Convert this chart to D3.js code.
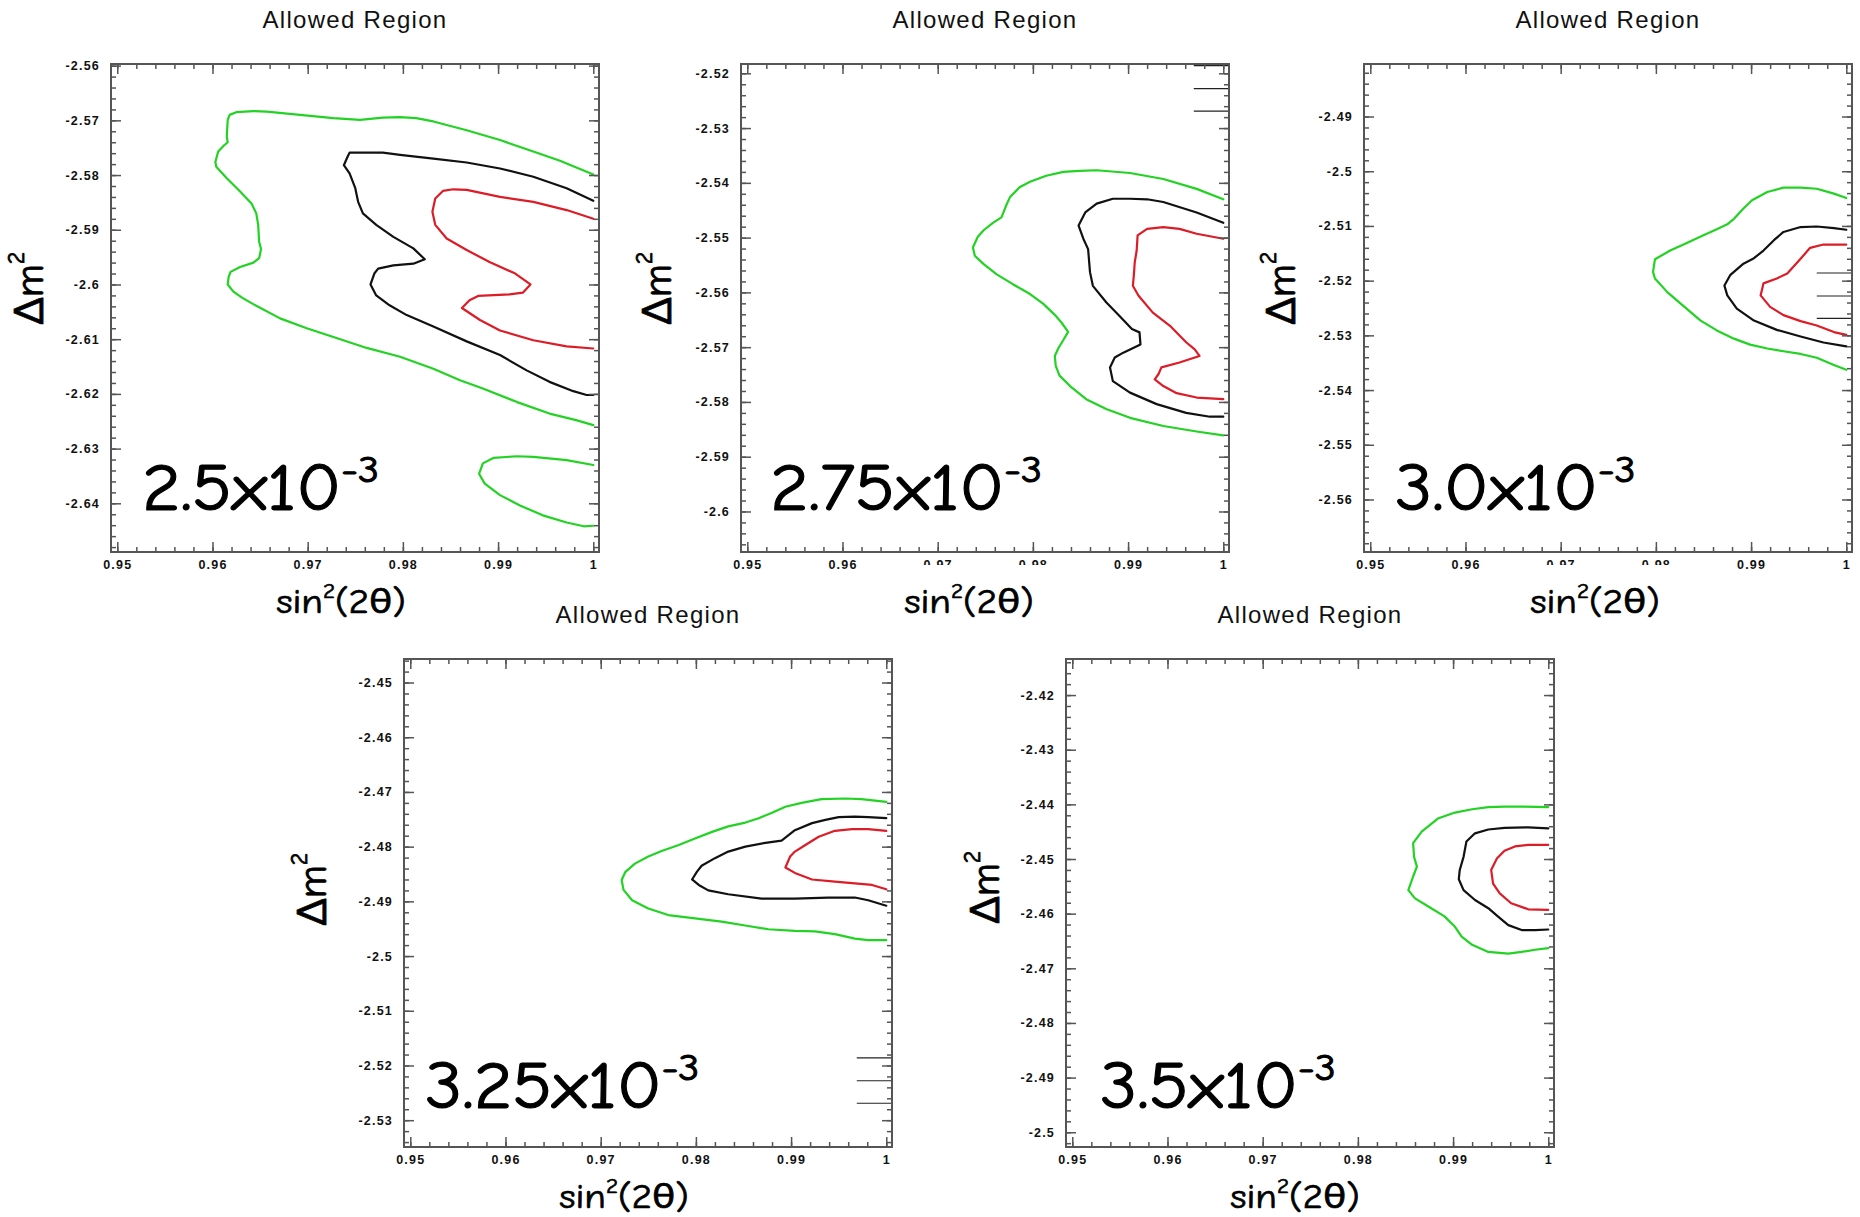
<!DOCTYPE html>
<html><head><meta charset="utf-8">
<script src="https://cdn.jsdelivr.net/npm/d3@7"></script>
<style>
html,body{margin:0;padding:0;background:#fff;}
svg{display:block;}
</style>
</head><body>
<svg id="chart" width="1860" height="1217"></svg>
<script>
// ---------------- DATA ----------------
const titleText = "Allowed Region";
const panelMantissa = ["2.5x10", "2.75x10", "3.0x10", "3.25x10", "3.5x10"];
const panelExponent = "-3";
const xTicks = [0.95, 0.96, 0.97, 0.98, 0.99, 1];
const xDomain = [0.94934, 1.0006];
const yDomains = [
  [-2.6489, -2.5597],
  [-2.6074, -2.5183],
  [-2.5696, -2.4804],
  [-2.5349, -2.4457],
  [-2.5027, -2.4134]
];
const yTicks = [
  [-2.56, -2.57, -2.58, -2.59, -2.6, -2.61, -2.62, -2.63, -2.64],
  [-2.52, -2.53, -2.54, -2.55, -2.56, -2.57, -2.58, -2.59, -2.6],
  [-2.49, -2.5, -2.51, -2.52, -2.53, -2.54, -2.55, -2.56],
  [-2.45, -2.46, -2.47, -2.48, -2.49, -2.5, -2.51, -2.52, -2.53],
  [-2.42, -2.43, -2.44, -2.45, -2.46, -2.47, -2.48, -2.49, -2.5]
];
// small black marks at the right edge (legend stubs)
const legendY = [-2.5186, -2.5228, -2.5269];
const legendXStart = 0.9969;

// Panel 1 (2.5e-3)
const p1Green = [[1.0,-2.5799],[0.9965,-2.5774],[0.9937,-2.5757],[0.9902,-2.5736],[0.9867,-2.5718],[0.9832,-2.5702],[0.9814,-2.5696],[0.9797,-2.5694],[0.9779,-2.5695],[0.9755,-2.5699],[0.9727,-2.5696],[0.9692,-2.5690],[0.9657,-2.5684],[0.9643,-2.5683],[0.9625,-2.5685],[0.9618,-2.5690],[0.9616,-2.5699],[0.9615,-2.5730],[0.9616,-2.5740],[0.9612,-2.5746],[0.9606,-2.5757],[0.9603,-2.5776],[0.9604,-2.5785],[0.9615,-2.5806],[0.9629,-2.5830],[0.9641,-2.5852],[0.9646,-2.5870],[0.9648,-2.5891],[0.9649,-2.5922],[0.9651,-2.5935],[0.9649,-2.5952],[0.9643,-2.5960],[0.9629,-2.5968],[0.9619,-2.5977],[0.9617,-2.5986],[0.9616,-2.6000],[0.9622,-2.6013],[0.9631,-2.6024],[0.9646,-2.6039],[0.9671,-2.6062],[0.9699,-2.6080],[0.9727,-2.6096],[0.9762,-2.6116],[0.9797,-2.6132],[0.9832,-2.6154],[0.9860,-2.6175],[0.9884,-2.6190],[0.9920,-2.6215],[0.9954,-2.6236],[0.9982,-2.6248],[1.0,-2.6257]];
const p1GreenIsland = [[1.0,-2.6330],[0.9972,-2.6321],[0.9937,-2.6315],[0.9920,-2.6314],[0.9895,-2.6317],[0.9884,-2.6327],[0.9880,-2.6346],[0.9886,-2.6364],[0.9902,-2.6385],[0.9923,-2.6404],[0.9947,-2.6422],[0.9972,-2.6435],[0.9990,-2.6442],[1.0,-2.6441]];
const p1Black = [[1.0,-2.5847],[0.9972,-2.5824],[0.9937,-2.5803],[0.9902,-2.5788],[0.9867,-2.5777],[0.9832,-2.5770],[0.9797,-2.5763],[0.9779,-2.5759],[0.9762,-2.5759],[0.9744,-2.5759],[0.9742,-2.5766],[0.9738,-2.5782],[0.9744,-2.5797],[0.9750,-2.5824],[0.9753,-2.5849],[0.9758,-2.5870],[0.9772,-2.5891],[0.9790,-2.5913],[0.9811,-2.5934],[0.9823,-2.5954],[0.9811,-2.5962],[0.9790,-2.5965],[0.9774,-2.5971],[0.9770,-2.5980],[0.9766,-2.6000],[0.9772,-2.6020],[0.9786,-2.6038],[0.9804,-2.6056],[0.9832,-2.6077],[0.9867,-2.6104],[0.9902,-2.6129],[0.9930,-2.6157],[0.9954,-2.6178],[0.9979,-2.6195],[0.9993,-2.6202],[1.0,-2.6202]];
const p1Red = [[1.0,-2.5880],[0.9972,-2.5864],[0.9937,-2.5849],[0.9902,-2.5840],[0.9867,-2.5827],[0.9853,-2.5826],[0.9842,-2.5829],[0.9834,-2.5843],[0.9831,-2.5867],[0.9834,-2.5891],[0.9846,-2.5916],[0.9867,-2.5937],[0.9891,-2.5959],[0.9918,-2.5980],[0.9934,-2.6000],[0.9926,-2.6015],[0.9912,-2.6018],[0.9879,-2.6021],[0.9870,-2.6029],[0.9862,-2.6043],[0.9881,-2.6065],[0.9902,-2.6084],[0.9937,-2.6102],[0.9972,-2.6113],[1.0,-2.6117]];

// Panel 2 (2.75e-3)
const p2Green = [[1.0,-2.5430],[0.9972,-2.5411],[0.9937,-2.5393],[0.9902,-2.5382],[0.9867,-2.5377],[0.9849,-2.5378],[0.9832,-2.5380],[0.9814,-2.5387],[0.9797,-2.5398],[0.9786,-2.5408],[0.9776,-2.5426],[0.9772,-2.5441],[0.9767,-2.5463],[0.9758,-2.5473],[0.9748,-2.5487],[0.9742,-2.5499],[0.9737,-2.5518],[0.9739,-2.5533],[0.9748,-2.5548],[0.9762,-2.5567],[0.9779,-2.5585],[0.9797,-2.5603],[0.9811,-2.5621],[0.9823,-2.5641],[0.9830,-2.5655],[0.9837,-2.5672],[0.9832,-2.5687],[0.9827,-2.5701],[0.9823,-2.5716],[0.9824,-2.5734],[0.9828,-2.5752],[0.9839,-2.5771],[0.9856,-2.5795],[0.9877,-2.5813],[0.9902,-2.5829],[0.9937,-2.5844],[0.9972,-2.5854],[1.0,-2.5861]];
const p2Black = [[1.0,-2.5473],[0.9972,-2.5454],[0.9937,-2.5435],[0.9920,-2.5430],[0.9902,-2.5429],[0.9884,-2.5429],[0.9867,-2.5438],[0.9855,-2.5454],[0.9848,-2.5478],[0.9853,-2.5502],[0.9858,-2.5521],[0.9860,-2.5563],[0.9863,-2.5588],[0.9877,-2.5618],[0.9891,-2.5643],[0.9904,-2.5667],[0.9912,-2.5673],[0.9913,-2.5695],[0.9895,-2.5710],[0.9886,-2.5719],[0.9881,-2.5737],[0.9884,-2.5762],[0.9902,-2.5783],[0.9930,-2.5804],[0.9961,-2.5820],[0.9986,-2.5827],[1.0,-2.5827]];
const p2Red = [[1.0,-2.5502],[0.9972,-2.5493],[0.9954,-2.5484],[0.9937,-2.5481],[0.9920,-2.5484],[0.9910,-2.5496],[0.9909,-2.5524],[0.9907,-2.5545],[0.9906,-2.5570],[0.9905,-2.5588],[0.9911,-2.5606],[0.9926,-2.5637],[0.9944,-2.5661],[0.9961,-2.5691],[0.9970,-2.5704],[0.9975,-2.5716],[0.9954,-2.5728],[0.9935,-2.5737],[0.9932,-2.5749],[0.9928,-2.5759],[0.9937,-2.5771],[0.9951,-2.5784],[0.9972,-2.5792],[1.0,-2.5795]];

// Panel 3 (3.0e-3)
const p3Green = [[1.0,-2.5049],[0.9987,-2.5041],[0.9969,-2.5032],[0.9952,-2.5030],[0.9934,-2.5030],[0.9917,-2.5038],[0.9901,-2.5053],[0.9892,-2.5068],[0.9882,-2.5087],[0.9875,-2.5097],[0.9864,-2.5106],[0.9850,-2.5117],[0.9829,-2.5134],[0.9815,-2.5145],[0.9799,-2.5161],[0.9797,-2.5184],[0.9799,-2.5196],[0.9812,-2.5221],[0.9826,-2.5242],[0.9847,-2.5273],[0.9864,-2.5291],[0.9882,-2.5306],[0.9899,-2.5317],[0.9917,-2.5324],[0.9934,-2.5329],[0.9952,-2.5334],[0.9969,-2.5341],[0.9987,-2.5354],[1.0,-2.5363]];
const p3Black = [[1.0,-2.5107],[0.9987,-2.5104],[0.9969,-2.5101],[0.9952,-2.5102],[0.9934,-2.5111],[0.9924,-2.5126],[0.9913,-2.5145],[0.9903,-2.5159],[0.9892,-2.5169],[0.9878,-2.5190],[0.9872,-2.5209],[0.9875,-2.5227],[0.9885,-2.5251],[0.9903,-2.5273],[0.9927,-2.5290],[0.9952,-2.5302],[0.9976,-2.5313],[1.0,-2.5320]];
const p3Red = [[1.0,-2.5134],[0.9976,-2.5134],[0.9962,-2.5140],[0.9952,-2.5160],[0.9938,-2.5187],[0.9927,-2.5196],[0.9913,-2.5205],[0.9910,-2.5227],[0.9920,-2.5248],[0.9934,-2.5263],[0.9952,-2.5274],[0.9969,-2.5282],[0.9987,-2.5294],[1.0,-2.5299]];

// Panel 4 (3.25e-3)
const p4Green = [[1.0,-2.4718],[0.9974,-2.4713],[0.9957,-2.4712],[0.9932,-2.4713],[0.9911,-2.4720],[0.9894,-2.4727],[0.9880,-2.4738],[0.9866,-2.4748],[0.9852,-2.4756],[0.9834,-2.4763],[0.9817,-2.4773],[0.9799,-2.4785],[0.9782,-2.4797],[0.9764,-2.4808],[0.9750,-2.4818],[0.9736,-2.4831],[0.9726,-2.4846],[0.9722,-2.4861],[0.9724,-2.4879],[0.9733,-2.4898],[0.9750,-2.4913],[0.9771,-2.4925],[0.9799,-2.4931],[0.9827,-2.4937],[0.9855,-2.4945],[0.9876,-2.4951],[0.9904,-2.4954],[0.9925,-2.4955],[0.9946,-2.4960],[0.9967,-2.4968],[0.9981,-2.4971],[1.0,-2.4971]];
const p4Black = [[1.0,-2.4748],[0.9981,-2.4746],[0.9967,-2.4745],[0.9950,-2.4746],[0.9936,-2.4751],[0.9922,-2.4757],[0.9904,-2.4770],[0.9890,-2.4789],[0.9873,-2.4793],[0.9852,-2.4800],[0.9834,-2.4809],[0.9820,-2.4821],[0.9806,-2.4835],[0.9801,-2.4846],[0.9796,-2.4860],[0.9803,-2.4870],[0.9813,-2.4880],[0.9834,-2.4887],[0.9869,-2.4895],[0.9904,-2.4895],[0.9939,-2.4893],[0.9967,-2.4893],[0.9981,-2.4898],[1.0,-2.4908]];
const p4Red = [[1.0,-2.4771],[0.9981,-2.4768],[0.9964,-2.4768],[0.9946,-2.4771],[0.9929,-2.4782],[0.9915,-2.4797],[0.9904,-2.4809],[0.9899,-2.4818],[0.9894,-2.4838],[0.9904,-2.4848],[0.9922,-2.4860],[0.9946,-2.4864],[0.9967,-2.4867],[0.9985,-2.4870],[1.0,-2.4878]];

// Panel 5 (3.5e-3)
const p5Green = [[1.0,-2.4405],[0.9972,-2.4404],[0.9954,-2.4404],[0.9937,-2.4405],[0.9920,-2.4409],[0.9902,-2.4415],[0.9884,-2.4426],[0.9867,-2.4450],[0.9858,-2.4471],[0.9859,-2.4496],[0.9862,-2.4514],[0.9858,-2.4532],[0.9853,-2.4557],[0.9860,-2.4572],[0.9874,-2.4587],[0.9891,-2.4605],[0.9902,-2.4624],[0.9909,-2.4642],[0.9920,-2.4657],[0.9937,-2.4670],[0.9958,-2.4673],[0.9972,-2.4670],[0.9986,-2.4666],[1.0,-2.4663]];
const p5Black = [[1.0,-2.4444],[0.9979,-2.4442],[0.9954,-2.4443],[0.9937,-2.4446],[0.9923,-2.4453],[0.9914,-2.4468],[0.9911,-2.4496],[0.9907,-2.4520],[0.9906,-2.4537],[0.9911,-2.4557],[0.9923,-2.4575],[0.9937,-2.4590],[0.9947,-2.4605],[0.9958,-2.4621],[0.9972,-2.4630],[0.9986,-2.4630],[1.0,-2.4629]];
const p5Red = [[1.0,-2.4474],[0.9979,-2.4474],[0.9965,-2.4477],[0.9954,-2.4485],[0.9946,-2.4499],[0.9940,-2.4520],[0.9942,-2.4545],[0.9949,-2.4563],[0.9961,-2.4581],[0.9979,-2.4592],[1.0,-2.4593]];

// ---------------- STYLE / LAYOUT ----------------
const GREEN = "#22d324", BLACK = "#111111", RED = "#dc1c26";
const contourSets = [
  [[p1Green, GREEN], [p1GreenIsland, GREEN], [p1Black, BLACK], [p1Red, RED]],
  [[p2Green, GREEN], [p2Black, BLACK], [p2Red, RED]],
  [[p3Green, GREEN], [p3Black, BLACK], [p3Red, RED]],
  [[p4Green, GREEN], [p4Black, BLACK], [p4Red, RED]],
  [[p5Green, GREEN], [p5Black, BLACK], [p5Red, RED]]
];
const layout = [
  {left: 111, top: 64,  yLabOff: 68, yLabDy: 224, bigX: 31, bigB: 42, xLabDx: -14, cover: false},
  {left: 741, top: 64,  yLabOff: 70, yLabDy: 224, bigX: 29, bigB: 42, xLabDx: -16, cover: true},
  {left: 1364, top: 64, yLabOff: 69, yLabDy: 224, bigX: 31, bigB: 42, xLabDx: -13, cover: true},
  {left: 404, top: 659, yLabOff: 78, yLabDy: 230, bigX: 21, bigB: 39, xLabDx: -24, cover: false},
  {left: 1066, top: 659, yLabOff: 67, yLabDy: 228, bigX: 34, bigB: 39, xLabDx: -15, cover: false}
];
const S = 488;
const FRAME = "#555";
const COMIC = '"Comic Sans MS","Comic Neue",Lato,"Open Sans",sans-serif';
const HELV = '"Liberation Sans",Arial,Helvetica,sans-serif';

const svg = d3.select("#chart");
svg.append("rect").attr("width", 1860).attr("height", 1217).attr("fill", "#fff");

function minorValues(dom) {
  const lo = Math.min(dom[0], dom[1]), hi = Math.max(dom[0], dom[1]);
  const out = [];
  for (let k = Math.ceil(lo * 500 - 1e-6); k <= Math.floor(hi * 500 + 1e-6); k++) out.push(k / 500);
  return out;
}
const fmt = d => String(+d.toFixed(3));

layout.forEach((p, i) => {
  const g = svg.append("g").attr("transform", `translate(${p.left},${p.top})`);
  const x = d3.scaleLinear().domain(xDomain).range([0, S]);
  const y = d3.scaleLinear().domain(yDomains[i]).range([S, 0]);

  const clipId = "clip" + i;
  g.append("clipPath").attr("id", clipId).append("rect").attr("width", S).attr("height", S);
  const plot = g.append("g").attr("clip-path", `url(#${clipId})`);

  const line = d3.line().x(d => x(d[0])).y(d => y(d[1]));
  contourSets[i].forEach(([pts, col]) => {
    plot.append("path").attr("d", line(pts)).attr("fill", "none")
      .attr("stroke", col).attr("stroke-width", 2.2)
      .attr("stroke-linejoin", "round").attr("stroke-linecap", "round");
  });

  legendY.forEach(v => {
    if (v >= yDomains[i][0] && v <= yDomains[i][1]) {
      plot.append("line").attr("x1", x(legendXStart)).attr("x2", x(xDomain[1]))
        .attr("y1", y(v)).attr("y2", y(v)).attr("stroke", "#222").attr("stroke-width", 1.1);
    }
  });

  // axes: minor ticks
  const xm = minorValues(xDomain), ym = minorValues(yDomains[i]);
  const styleAxis = sel => {
    sel.select(".domain").remove();
    sel.selectAll(".tick line").attr("stroke", FRAME).attr("stroke-width", 1.5);
  };
  g.append("g").attr("transform", `translate(0,${S})`)
    .call(d3.axisBottom(x).tickValues(xm).tickSize(-5).tickFormat("")).call(styleAxis);
  g.append("g").call(d3.axisTop(x).tickValues(xm).tickSize(-5).tickFormat("")).call(styleAxis);
  g.append("g").call(d3.axisLeft(y).tickValues(ym).tickSize(-5).tickFormat("")).call(styleAxis);
  g.append("g").attr("transform", `translate(${S},0)`)
    .call(d3.axisRight(y).tickValues(ym).tickSize(-5).tickFormat("")).call(styleAxis);

  // major ticks + labels
  const labStyle = sel => sel.selectAll(".tick text")
    .attr("fill", "#111").attr("font-family", HELV).attr("font-weight", "bold")
    .attr("font-size", 12.5).attr("letter-spacing", "1.2px");
  g.append("g").attr("transform", `translate(0,${S})`)
    .call(d3.axisBottom(x).tickValues(xTicks).tickSize(-10).tickPadding(8).tickFormat(fmt))
    .call(styleAxis).call(labStyle);
  g.append("g").call(d3.axisTop(x).tickValues(xTicks).tickSize(-10).tickFormat("")).call(styleAxis);
  g.append("g")
    .call(d3.axisLeft(y).tickValues(yTicks[i]).tickSize(-10).tickPadding(11).tickFormat(fmt))
    .call(styleAxis).call(labStyle);
  g.append("g").attr("transform", `translate(${S},0)`)
    .call(d3.axisRight(y).tickValues(yTicks[i]).tickSize(-10).tickFormat("")).call(styleAxis);

  // frame
  g.append("rect").attr("width", S).attr("height", S).attr("fill", "none")
    .attr("stroke", FRAME).attr("stroke-width", 2);

  // title
  g.append("text").attr("x", S / 2).attr("y", -36).attr("text-anchor", "middle")
    .attr("font-family", HELV).attr("font-size", 24).attr("letter-spacing", "1.3px")
    .attr("fill", "#111").text(titleText);

  // x-axis title (with white box like the pasted label)
  const cx = S / 2 + p.xLabDx;
  if (p.cover) {
    g.append("rect").attr("x", cx - 100).attr("y", S + 13).attr("width", 200).attr("height", 58)
      .attr("fill", "#fff");
  }
  const xt = g.append("text").attr("transform", `translate(${cx},${S + 61}) scale(1.15,1)`)
    .attr("text-anchor", "middle")
    .attr("font-family", COMIC).attr("font-size", 34).attr("fill", "#000")
    .attr("stroke", "#000").attr("stroke-width", 0.7);
  xt.append("tspan").text("sin");
  xt.append("tspan").attr("font-size", 20).attr("dy", -15).text("2");
  xt.append("tspan").attr("dy", 15).text("(2θ)");

  // y-axis title
  const yt = g.append("text").attr("transform", `translate(${-p.yLabOff},${p.yLabDy}) rotate(-90)`)
    .attr("text-anchor", "middle").attr("font-family", COMIC)
    .attr("font-size", 40).attr("fill", "#000").attr("stroke", "#000").attr("stroke-width", 0.8);
  yt.append("tspan").text("Δm");
  yt.append("tspan").attr("font-size", 24).attr("dy", -19).text("2");

  // big label
  const bt = g.append("text").attr("transform", `translate(${p.bigX},${S - p.bigB}) scale(1.12,1)`)
    .attr("font-family", COMIC).attr("font-size", 66).attr("fill", "#000")
    .attr("stroke", "#000").attr("stroke-width", 1.1);
  bt.append("tspan").text(panelMantissa[i]);
  bt.append("tspan").attr("font-size", 37).attr("dy", -28).text(panelExponent);
});
</script>
</body></html>
